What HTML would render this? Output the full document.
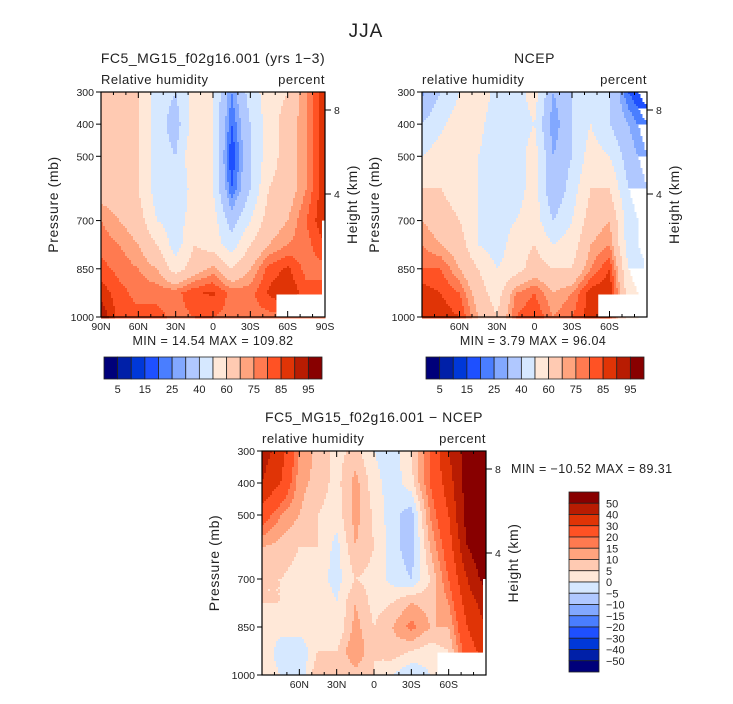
<!DOCTYPE html>
<html><head><meta charset="utf-8"><style>
body{margin:0;background:#fff;}
svg text{font-family:"Liberation Sans",sans-serif;fill:#222;}
</style></head><body>
<svg id="chart" width="733" height="699" viewBox="0 0 733 699" xmlns="http://www.w3.org/2000/svg">
<rect width="733" height="699" fill="#fff"/>
<text x="366" y="37" font-size="19" text-anchor="middle" letter-spacing="1">JJA</text>
</svg>
<script>
// ---- data ----
const lats = [90,75,60,45,30,15,0,-15,-30,-45,-60,-75,-90];
const pLevels = [300,400,500,600,700,775,850,925,1000];
const modelRH = [
[70,65,60,45,40,55,50,25,45,55,60,75,90],
[70,65,60,45,35,55,50,20,40,55,65,75,90],
[70,65,60,45,40,60,50,15,40,55,65,75,90],
[65,65,60,45,40,55,50,20,40,60,65,75,90],
[75,70,65,50,45,55,55,35,50,65,70,80,90],
[78,75,70,60,45,60,55,45,60,70,75,78,85],
[82,78,75,70,55,65,72,60,70,82,86,78,78],
[88,82,78,78,78,84,86,78,78,86,90,82,82],
[95,82,82,82,78,80,80,78,78,78,78,78,78]];
const ncepRH = [
[28,40,50,60,45,45,55,30,40,50,40,20,10],
[40,48,55,55,40,45,50,25,40,50,40,30,20],
[50,55,55,50,40,45,55,30,40,55,50,35,25],
[60,60,55,50,40,45,55,30,45,60,60,40,30],
[70,65,60,50,45,50,55,40,50,65,70,45,35],
[75,70,65,50,45,55,60,50,55,70,75,45,35],
[80,80,70,60,50,55,65,60,60,75,85,50,40],
[88,85,80,65,55,75,80,70,75,88,90,55,45],
[90,88,85,70,60,80,85,75,80,88,85,55,45]];
const diffRH = [
[45,35,15,8,3,7,0,-3,5,20,40,55,60],
[40,30,12,8,3,12,2,-3,3,20,35,55,60],
[25,15,10,5,2,12,4,-3,-8,15,30,55,60],
[10,8,5,5,-2,10,5,-3,-8,10,25,50,60],
[5,5,3,2,-2,5,3,-2,-5,5,20,40,55],
[5,5,3,5,0,10,3,5,10,8,15,35,45],
[3,2,3,5,0,12,5,10,17,10,10,30,40],
[5,-3,-5,5,5,15,5,8,5,2,5,25,35],
[3,0,-5,10,5,8,5,0,-5,0,0,20,30]];
const rhLevels = [5,10,15,20,25,30,40,50,60,70,75,80,85,90,95];
const rhTickLabels = ["5","15","25","40","60","75","85","95"];
const diffLevels = [-50,-40,-30,-20,-15,-10,-5,0,5,10,15,20,30,40,50];
const diffTickLabels = ["50","40","30","20","15","10","5","0","−5","−10","−15","−20","−30","−40","−50"];
const palette = ["#00007a","#0020a8","#0038d8","#1e50ff","#4a7eff","#82a8ff","#b0c8ff","#d6e8ff","#ffe8d8","#ffcab2","#ffa47e","#ff7a50","#ff5224","#e03406","#b81c02","#880000"];
const pressTicks = [300,400,500,700,850,1000];
const latTickVals = [90,60,30,0,-30,-60,-90];
const latTickLabels = ["90N","60N","30N","0","30S","60S","90S"];

const NS="http://www.w3.org/2000/svg";
const svg=document.getElementById('chart');
function mk(tag,attrs,parent){const e=document.createElementNS(NS,tag);for(const k in attrs)e.setAttribute(k,attrs[k]);(parent||svg).appendChild(e);return e;}
function txt(x,y,s,size,anchor,parent,extra){const t=mk('text',Object.assign({x:x,y:y,'font-size':size,'text-anchor':anchor||'start'},extra||{}),parent);t.textContent=s;return t;}

function sample(data,lat,p){
  let fi=(90-lat)/15; fi=Math.max(0,Math.min(12,fi));
  let pj=0; while(pj<pLevels.length-2 && p>pLevels[pj+1]) pj++;
  let fj=pj+(p-pLevels[pj])/(pLevels[pj+1]-pLevels[pj]); fj=Math.max(0,Math.min(8,fj));
  const i0=Math.min(11,Math.floor(fi)), j0=Math.min(7,Math.floor(fj)), a=fi-i0, b=fj-j0;
  return data[j0][i0]*(1-a)*(1-b)+data[j0][i0+1]*a*(1-b)+data[j0+1][i0]*(1-a)*b+data[j0+1][i0+1]*a*b;
}
function colorIdx(v,lev){let k=0;while(k<lev.length&&v>=lev[k])k++;return k;}

function panel(o){
  const g=mk('g',{});
  
  
  const W=o.x1-o.x0,H=o.y1-o.y0;
  const xOf=lat=>o.x0+(90-lat)/180*W;
  const yOf=p=>o.y0+(p-300)/700*H;
  const cells=mk('g',{},g);
  
  
  const step=2;
  for(let y=o.y0;y<o.y1;y+=step){
    const p=300+(y+step/2-o.y0)/H*700;
    let runStart=o.x0, runC=-1;
    for(let x=o.x0;x<=o.x1;x+=step){
      let c=-1;
      if(x<o.x1){const lat=90-(x+step/2-o.x0)/W*180;c=colorIdx(sample(o.data,lat,p),o.levels);}
      if(c!==runC){
        if(runC>=0){const r=mk('rect',{x:runStart,y:y,width:Math.min(x,o.x1)-runStart+0.5,height:step+0.5,fill:palette[runC]},cells);
          
          }
        runStart=x;runC=c;
      }
    }
  }
  const m1=mk('rect',{x:xOf(-51),y:yOf(930),width:o.x1-xOf(-51),height:o.y1-yOf(930),fill:'#fff'},g);
  
  
  const m2=mk('rect',{x:o.x1-3,y:yOf(700),width:3,height:o.y1-yOf(700),fill:'#fff'},g);
  
  
  const fr=mk('rect',{x:o.x0,y:o.y0,width:W,height:H,fill:'none',stroke:'#000','stroke-width':1.2},g);
  
  
  for(let lat=90;lat>=-90;lat-=10){const x=xOf(lat);const major=lat%30===0;const L=major?6:3;
    mk('line',{x1:x,y1:o.y0,x2:x,y2:o.y0+L,stroke:'#000'},g);mk('line',{x1:x,y1:o.y1,x2:x,y2:o.y1-L,stroke:'#000'},g);}
  latTickVals.forEach((v,i)=>{if(!o.endLabels&&(i===0||i===6))return;const t=txt(xOf(v),o.y1+13,latTickLabels[i],10.5,'middle',g);
    });
  pressTicks.forEach(p=>{const y=yOf(p);mk('line',{x1:o.x0-5,y1:y,x2:o.x0,y2:y,stroke:'#000'},g);
    const t=txt(o.x0-7,y+4,String(p),10.5,'end',g);});
  [[8,110],[4,194]].forEach(h=>{const y=o.y0+(h[1]-92);mk('line',{x1:o.x1,y1:y,x2:o.x1+6,y2:y,stroke:'#000'},g);
    const t=txt(o.x1+9,y+4,String(h[0]),10.5,'start',g);});
  const yt=txt(0,0,'Pressure (mb)',14,'middle',g,{transform:`translate(${o.x0-43},${(o.y0+o.y1)/2}) rotate(-90)`,'letter-spacing':'0.6'});
  
  const ht=txt(0,0,'Height (km)',14,'middle',g,{transform:`translate(${o.x1+32},${(o.y0+o.y1)/2}) rotate(-90)`,'letter-spacing':'0.6'});
  
  const t1=txt((o.x0+o.x1)/2,o.y0-29,o.title,14,'middle',g,{'letter-spacing':'0.5'});
  const t2=txt(o.x0,o.y0-8,o.left,13,'start',g,{'letter-spacing':'0.5'});
  const t3=txt(o.x1,o.y0-8,'percent',13,'end',g,{'letter-spacing':'0.5'});
  const t4=txt(o.mmx,o.mmy,o.minmax,12.5,o.mma,g,{'xml:space':'preserve','letter-spacing':'0.4'});
}
panel({name:'model-panel',x0:101,x1:325,y0:92,y1:317,data:modelRH,levels:rhLevels,endLabels:true,title:'FC5_MG15_f02g16.001 (yrs 1−3)',left:'Relative humidity',minmax:'MIN =  14.54   MAX = 109.82',mmx:213,mmy:345,mma:'middle'});
panel({name:'ncep-panel',x0:422,x1:647,y0:92,y1:317,data:ncepRH,levels:rhLevels,endLabels:false,title:'NCEP',left:'relative humidity',minmax:'MIN =   3.79   MAX =  96.04',mmx:533,mmy:345,mma:'middle'});
panel({name:'difference-panel',x0:262,x1:486,y0:451,y1:675,data:diffRH,levels:diffLevels,endLabels:false,title:'FC5_MG15_f02g16.001 − NCEP',left:'relative humidity',minmax:'MIN = −10.52   MAX =  89.31',mmx:511,mmy:473,mma:'start'});

function hbar(x0,x1,y0,y1,name){
  const g=mk('g',{});
  const w=(x1-x0)/palette.length;
  palette.forEach((c,i)=>{const r=mk('rect',{x:x0+i*w,y:y0,width:w,height:y1-y0,fill:c,stroke:'#222','stroke-width':0.8},g);
    });
  rhTickLabels.forEach((s,k)=>{const t=txt(x0+(2*k+1)*w,y1+14,s,11,'middle',g);});
}
hbar(104,322,357,379,'model-colorbar');
hbar(426,644,357,379,'ncep-colorbar');
(function(){
  const g=mk('g',{});
  const x0=569,x1=599,y0=492,y1=672,h=(y1-y0)/palette.length;
  palette.slice().reverse().forEach((c,i)=>{const r=mk('rect',{x:x0,y:y0+i*h,width:x1-x0,height:h,fill:c,stroke:'#222','stroke-width':0.8},g);
    });
  diffTickLabels.forEach((s,k)=>{const t=txt(606,y0+(k+1)*h+4,s,11,'start',g);});
})();
</script>
</body></html>
